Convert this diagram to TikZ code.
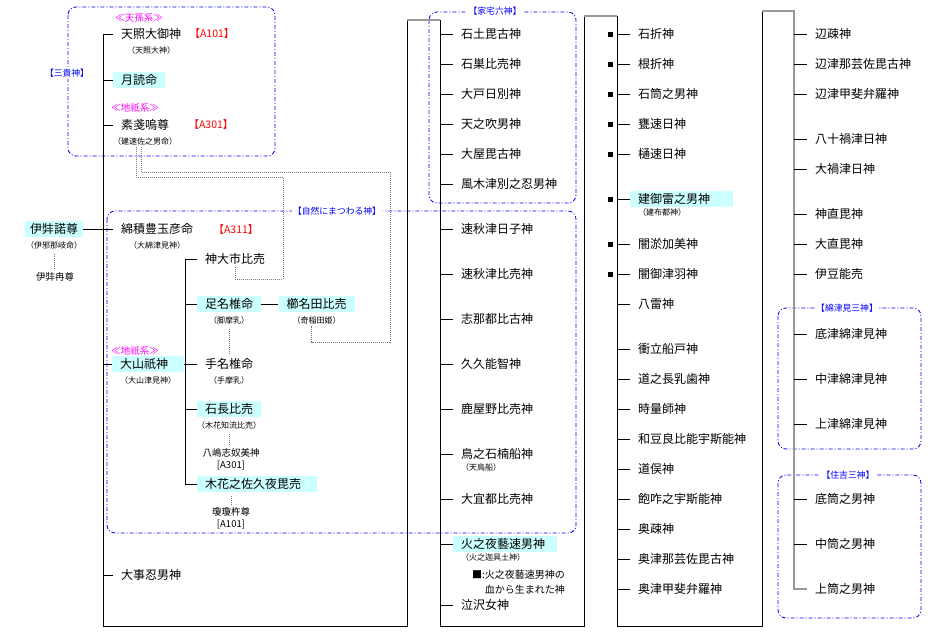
\documentclass[tikz,border=0pt]{standalone}
\usepackage{fontspec}
\setmainfont{Noto Sans CJK JP}
\usetikzlibrary{positioning}
\definecolor{hlcyan}{RGB}{204,255,255}
\definecolor{grpblue}{RGB}{0,0,255}
\definecolor{keipink}{RGB}{255,0,255}
\definecolor{refred}{RGB}{255,0,0}
\definecolor{kingray}{RGB}{120,120,120}

\begin{document}
\begin{tikzpicture}[x=1pt,y=-1pt,
  god/.style={anchor=west,font=\fontsize{12}{14}\selectfont,inner xsep=8pt,inner ysep=2pt},
  hl/.style={god,fill=hlcyan},
  yomi/.style={font=\fontsize{8}{9}\selectfont,inner sep=1pt},
  kosmall/.style={font=\fontsize{9.5}{11}\selectfont,inner sep=1pt},
  aref/.style={font=\fontsize{10.5}{12}\selectfont,text=refred,inner sep=1pt},
  kei/.style={font=\fontsize{9.5}{11}\selectfont,text=keipink,inner sep=1pt},
  grp/.style={draw=grpblue,line width=0.8pt,rounded corners=8pt,
              dash pattern=on 4pt off 2pt on 1pt off 2pt},
  grplabel/.style={font=\fontsize{8.8}{10}\selectfont,text=grpblue,fill=white,inner sep=1.5pt},
  ln/.style={line width=0.9pt},
  topln/.style={line width=1.2pt,draw=gray!80},
  kin/.style={draw=kingray,line width=0.7pt,dash pattern=on 1pt off 1pt},
  sq/.style={fill=black,minimum size=5pt,inner sep=0pt}
]
\useasboundingbox (0,0) rectangle (932,638);

% groups
\draw[grp] (68,7) rectangle (275,156);
\draw[grp] (107,211) rectangle (576,533);
\draw[grp] (429,12) rectangle (576,203);
\draw[grp] (778,308) rectangle (921,449);
\draw[grp] (778,475) rectangle (921,618);
\node[grplabel] (sankishin) at (67,73) {【三貴神】};
\node[grplabel] (shizen) at (337,211) {【自然にまつわる神】};
\node[grplabel] (kataku) at (495,11) {【家宅六神】};
\node[grplabel] (watatsumi3) at (847,308) {【綿津見三神】};
\node[grplabel] (sumiyoshi3) at (848,475) {【住吉三神】};

% column 1
\node[kei] (tenson) at (139,18) {≪天孫系≫};
\node[god] (amaterasu) at (113,34) {天照大御神};
\node[yomi,below=4pt of amaterasu] (amaterasuB) {（天照大神）};
\node[aref] (a101) at (212,34) {【A101】};
\node[hl] (tsukuyomi) at (113,80) {月読命};
\node[kei] (chigi1) at (135,108) {≪地祇系≫};
\node[god] (susanoo) at (113,125) {素戔嗚尊};
\node[yomi,below=4pt of susanoo] (susanooB) {（建速佐之男命）};
\node[aref] (a301) at (211,125) {【A301】};
\node[god] (watatsumi) at (113,229) {綿積豊玉彦命};
\node[yomi,below=4pt of watatsumi] (watatsumiB) {（大綿津見神）};
\node[aref] (a311) at (236,230) {【A311】};
\node[kei] (chigi2) at (135,351) {≪地祇系≫};
\node[hl,text width=56pt,align=left] (ooyama) at (112,364) {大山祇神};
\node[yomi,below=4pt of ooyama] (ooyamaB) {（大山津見神）};
\node[god] (kotooshio) at (113,575) {大事忍男神};

\node[hl,inner xsep=5pt] (izanagi) at (25,229) {伊弉諾尊};
\node[yomi,below=4pt of izanagi] (izanagiB) {（伊邪那岐命）};
\node[kosmall] (izanami) at (55,277) {伊弉冉尊};

% children of oyamatsumi
\node[god] (kamuoo) at (197,259) {神大市比売};
\node[hl] (ashinazuchi) at (197,304) {足名椎命};
\node[yomi,below=4pt of ashinazuchi] (ashinazuchiB) {（脚摩乳）};
\node[hl,right=17pt of ashinazuchi] (kushinada) {櫛名田比売};
\node[yomi,below=4pt of kushinada] (kushinadaB) {（奇稲田姫）};
\node[god] (tenazuchi) at (197,364) {手名椎命};
\node[yomi,below=4pt of tenazuchi] (tenazuchiB) {（手摩乳）};
\node[hl] (iwanaga) at (197,409) {石長比売};
\node[yomi,below=4pt of iwanaga] (iwanagaB) {（木花知流比売）};
\node[kosmall] (yashima) at (231,453) {八嶋志奴美神};
\node[kosmall,below=1pt of yashima] (yashimaA) {[A301]};
\node[hl,text width=104pt,align=left] (konohana) at (197,484) {木花之佐久夜毘売};
\node[kosmall] (ninigi) at (231,512) {瓊瓊杵尊};
\node[kosmall,below=1pt of ninigi] (ninigiA) {[A101]};

% column 2
\node[god] (b1) at (453,34) {石土毘古神};
\node[god] (b2) at (453,64) {石巣比売神};
\node[god] (b3) at (453,94) {大戸日別神};
\node[god] (b4) at (453,124) {天之吹男神};
\node[god] (b5) at (453,154) {大屋毘古神};
\node[god] (b6) at (453,184) {風木津別之忍男神};
\node[god] (b7) at (453,229) {速秋津日子神};
\node[god] (b8) at (453,274) {速秋津比売神};
\node[god] (b9) at (453,319) {志那都比古神};
\node[god] (b10) at (453,364) {久久能智神};
\node[god] (b11) at (453,409) {鹿屋野比売神};
\node[god] (b12) at (453,454) {鳥之石楠船神};
\node[yomi,anchor=north west] (b12B) at ([xshift=7pt,yshift=-1pt]b12.south west) {（天鳥船）};
\node[god] (b13) at (453,499) {大宜都比売神};
\node[hl,text width=88pt,align=left] (b14) at (453,544) {火之夜藝速男神};
\node[yomi,anchor=north west] (b14B) at ([xshift=7pt,yshift=-1pt]b14.south west) {（火之迦具土神）};
\node[kosmall,font=\fontsize{10}{15}\selectfont,align=left,anchor=west] (bloodnote) at (471,582)
  {■:火之夜藝速男神の\\\phantom{■:}血から生まれた神};
\node[god] (b15) at (453,605) {泣沢女神};

% column 3
\node[god] (c1) at (630,34) {石折神};
\node[god] (c2) at (630,64) {根折神};
\node[god] (c3) at (630,94) {石筒之男神};
\node[god] (c4) at (630,124) {甕速日神};
\node[god] (c5) at (630,154) {樋速日神};
\node[hl,text width=87pt,align=left] (c6) at (630,199) {建御雷之男神};
\node[yomi,anchor=north west] (c6B) at ([xshift=7pt,yshift=-1pt]c6.south west) {（建布都神）};
\node[god] (c7) at (630,244) {闇淤加美神};
\node[god] (c8) at (630,274) {闇御津羽神};
\node[god] (c9) at (630,304) {八雷神};
\node[god] (c10) at (630,349) {衝立船戸神};
\node[god] (c11) at (630,379) {道之長乳歯神};
\node[god] (c12) at (630,409) {時量師神};
\node[god] (c13) at (630,439) {和豆良比能宇斯能神};
\node[god] (c14) at (630,469) {道俣神};
\node[god] (c15) at (630,499) {飽咋之宇斯能神};
\node[god] (c16) at (630,529) {奥疎神};
\node[god] (c17) at (630,559) {奥津那芸佐毘古神};
\node[god] (c18) at (630,589) {奥津甲斐弁羅神};

% column 4
\node[god] (d1) at (807,34) {辺疎神};
\node[god] (d2) at (807,64) {辺津那芸佐毘古神};
\node[god] (d3) at (807,94) {辺津甲斐弁羅神};
\node[god] (d4) at (807,139) {八十禍津日神};
\node[god] (d5) at (807,169) {大禍津日神};
\node[god] (d6) at (807,214) {神直毘神};
\node[god] (d7) at (807,244) {大直毘神};
\node[god] (d8) at (807,274) {伊豆能売};
\node[god] (d9) at (807,334) {底津綿津見神};
\node[god] (d10) at (807,379) {中津綿津見神};
\node[god] (d11) at (807,424) {上津綿津見神};
\node[god] (d12) at (807,499) {底筒之男神};
\node[god] (d13) at (807,544) {中筒之男神};
\node[god] (d14) at (807,589) {上筒之男神};

% the long line of siblings
\coordinate (s2) at (103,626);
\coordinate (s3) at (407,626);
\coordinate (s4) at (407,20);
\coordinate (s5) at (440,20);
\coordinate (s6) at (440,626);
\coordinate (s7) at (584,626);
\coordinate (s8) at (584,16);
\coordinate (s9) at (617,16);
\coordinate (s10) at (617,626);
\coordinate (s11) at (762,626);
\coordinate (s12) at (762,11);
\coordinate (s13) at (794,11);
\draw[ln] (amaterasu.west) -| (s2) -- (s3) -- (s4);
\draw[topln] (s4) -- (s5);
\draw[ln] (s5) -- (s6) -- (s7) -- (s8);
\draw[topln] (s8) -- (s9);
\draw[ln] (s9) -- (s10) -- (s11) -- (s12);
\draw[topln] (s12) -- (s13) |- (d14.west);

\foreach \n in {tsukuyomi,susanoo,ooyama,kotooshio}
  \draw[ln] (\n.west) -- (\n.west -| s2);
\draw[ln] (izanagi.east) -- (watatsumi.west);
\draw[ln] (kamuoo.west) -- ++(-12pt,0) |- (konohana.west);
\foreach \n in {ashinazuchi,tenazuchi,iwanaga}
  \draw[ln] (\n.west) -- ++(-12pt,0);
\draw[ln] (ooyama.east) -- (tenazuchi.west);
\draw[ln] (ashinazuchi.east) -- (kushinada.west);
\foreach \i in {1,...,15}
  \draw[ln] (b\i.west) -- (b\i.west -| s5);
\foreach \i in {1,...,18}
  \draw[ln] (c\i.west) -- (c\i.west -| s9);
\foreach \i in {1,...,13}
  \draw[ln] (d\i.west) -- (d\i.west -| s13);
\foreach \i in {1,...,8}
  \node[sq] (q\i) at ([xshift=-7pt]c\i.west -| s9) {};

% marriages and offspring
\draw[kin,shorten <=3pt,shorten >=3pt] (izanagiB.south) -- (izanagiB.south |- izanami.north);
\draw[kin,shorten <=3pt,shorten >=3pt] (ashinazuchiB.south) -- (ashinazuchiB.south |- tenazuchi.north);
\draw[kin,shorten <=3pt,shorten >=3pt] (iwanagaB.south) -- (iwanagaB.south |- yashima.north);
\draw[kin,shorten <=4pt,shorten >=1pt] (konohana.south -| ninigi) -- (ninigi.north);
\coordinate (kinA) at (283,177);
\coordinate (kinB) at (283,279);
\coordinate (kinC) at (390,172);
\coordinate (kinD) at (390,342);
\draw[kin] ([xshift=-9pt]susanooB.south) |- (kinA) -- (kinB) -| (kamuoo.south);
\draw[kin] ([xshift=-4pt]susanooB.south) |- (kinC) -- (kinD) -| ([xshift=-5pt]kushinadaB.south);
\end{tikzpicture}
\end{document}
